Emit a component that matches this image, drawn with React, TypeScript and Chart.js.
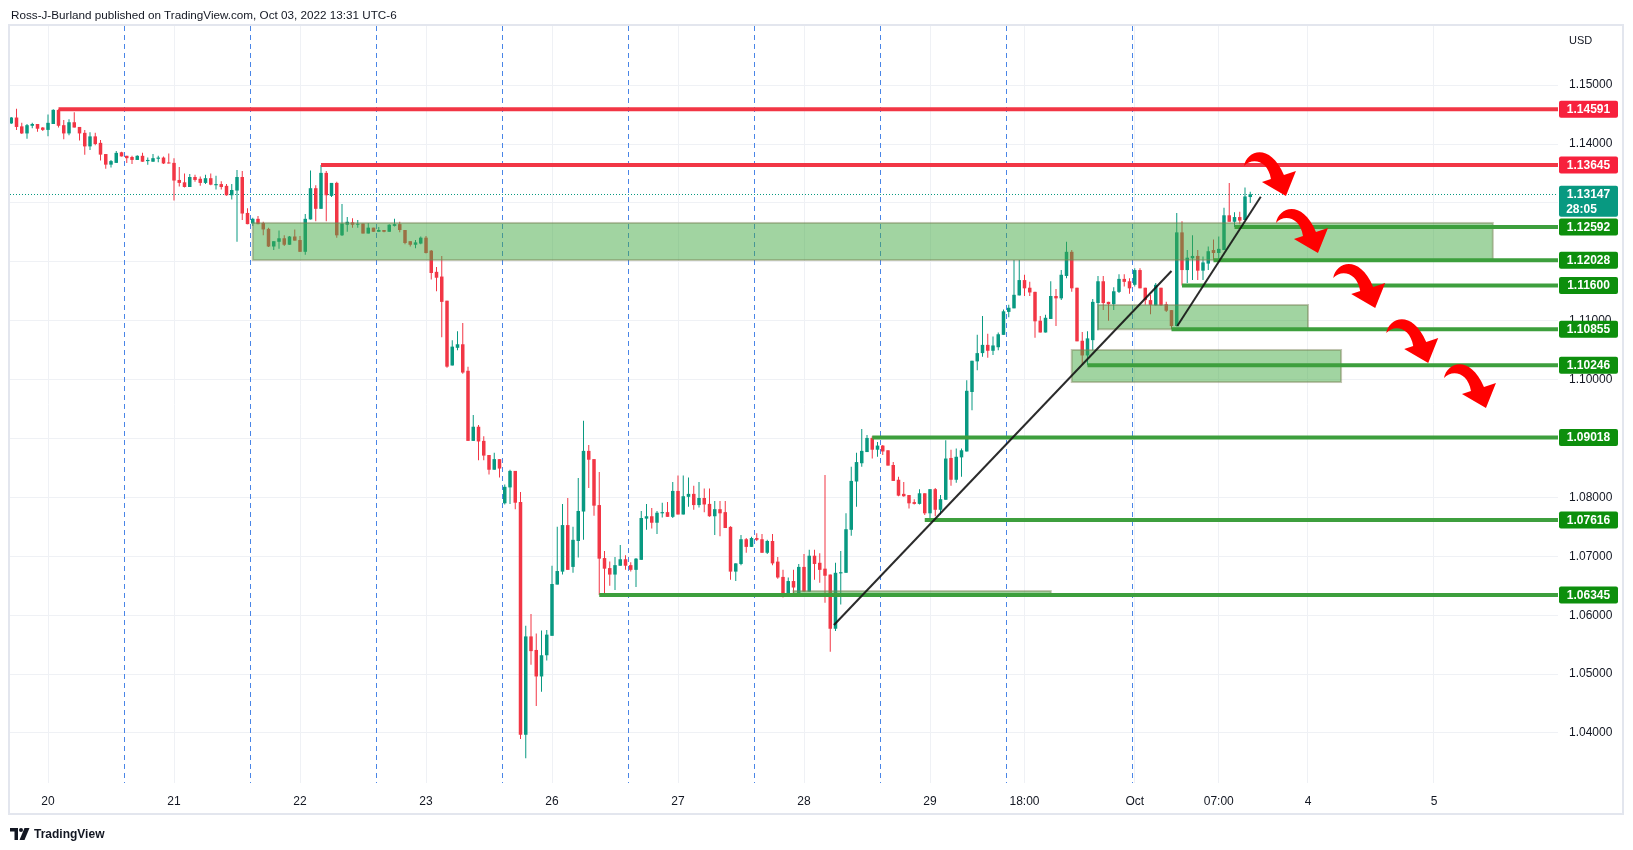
import React, { useEffect, useRef } from 'react';
import { Chart, registerables } from 'chart.js';

Chart.register(...registerables);

const FONT = "'Liberation Sans', Arial, sans-serif";
const UP = '#089981';
const DOWN = '#F23645';
const LEVEL_RED = '#F23645';
const LABEL_RED = '#f7213d';
const LEVEL_GREEN = '#3d9f3d';
const LABEL_GREEN = '#0d8f0d';

// hourly candles, index 0 = Sep 19 17:00 (UTC-6)
const opens = [
  1.1435, 1.1445, 1.1430, 1.1418, 1.1431, 1.1434, 1.1428, 1.1424, 1.1434, 1.1458,
  1.1432, 1.1418, 1.1437, 1.1429, 1.1419, 1.1396, 1.1413, 1.1402, 1.1383, 1.1365,
  1.1368, 1.1386, 1.1380, 1.1378, 1.1373, 1.1380, 1.1371, 1.1370, 1.1375, 1.1377,
  1.1368, 1.1368, 1.1339, 1.1335, 1.1327, 1.1344, 1.1341, 1.1334, 1.1342, 1.1330,
  1.1332, 1.1329, 1.1313, 1.1321, 1.1344, 1.1283, 1.1265, 1.1273, 1.1266, 1.1256,
  1.1226, 1.1234, 1.1240, 1.1229, 1.1243, 1.1237, 1.1217, 1.1272, 1.1325, 1.1290,
  1.1351, 1.1312, 1.1334, 1.1245, 1.1263, 1.1267, 1.1263, 1.1265, 1.1248, 1.1258,
  1.1251, 1.1254, 1.1251, 1.1261, 1.1264, 1.1254, 1.1235, 1.1229, 1.1231, 1.1241,
  1.1219, 1.1183, 1.1175, 1.1134, 1.1024, 1.1054, 1.1060, 1.1015, 1.0896, 1.0920,
  1.0896, 1.0872, 1.0847, 1.0865, 1.0790, 1.0817, 1.0845, 1.0792, 1.0397, 1.0564,
  1.0541, 1.0496, 1.0532, 1.0565, 1.0652, 1.0674, 1.0753, 1.0682, 1.0726, 1.0776,
  1.0879, 1.0865, 1.0787, 1.0697, 1.0680, 1.0669, 1.0684, 1.0695, 1.0685, 1.0677,
  1.0694, 1.0764, 1.0768, 1.0757, 1.0773, 1.0775, 1.0767, 1.0811, 1.0771, 1.0801,
  1.0806, 1.0787, 1.0799, 1.0789, 1.0768, 1.0780, 1.0775, 1.0750, 1.0674, 1.0687,
  1.0729, 1.0716, 1.0731, 1.0729, 1.0706, 1.0726, 1.0691, 1.0665, 1.0633, 1.0658,
  1.0633, 1.0682, 1.0640, 1.0701, 1.0689, 1.0679, 1.0669, 1.0577, 1.0671, 1.0672,
  1.0745, 1.0827, 1.0858, 1.0877, 1.0901, 1.0881, 1.0888, 1.0880, 1.0855, 1.0830,
  1.0806, 1.0804, 1.0792, 1.0789, 1.0807, 1.0773, 1.0814, 1.0779, 1.0796, 1.0867,
  1.0830, 1.0868, 1.0878, 1.0979, 1.1031, 1.1045, 1.1059, 1.1049, 1.1055, 1.1076,
  1.1115, 1.1121, 1.1143, 1.1169, 1.1156, 1.1149, 1.1100, 1.1080, 1.1103, 1.1142,
  1.1138, 1.1176, 1.1217, 1.1156, 1.1066, 1.1041, 1.1067, 1.1130, 1.1167, 1.1132,
  1.1128, 1.1149, 1.1171, 1.1167, 1.1161, 1.1186, 1.1156, 1.1135, 1.1126, 1.1156,
  1.1128, 1.1118, 1.1091, 1.1250, 1.1186, 1.1206, 1.1210, 1.1185, 1.1197, 1.1220,
  1.1215, 1.1220, 1.1279, 1.1268, 1.1276, 1.1271, 1.1310,
];

const highs = [
  1.1446, 1.1460, 1.1436, 1.1434, 1.1436, 1.1434, 1.1429, 1.1450, 1.1459, 1.14591,
  1.1441, 1.1442, 1.1454, 1.1429, 1.1424, 1.1420, 1.1419, 1.1407, 1.1383, 1.1373,
  1.1388, 1.1387, 1.1380, 1.1380, 1.1381, 1.1385, 1.1377, 1.1383, 1.1380, 1.1379,
  1.1384, 1.1376, 1.1361, 1.1350, 1.1349, 1.1348, 1.1345, 1.1348, 1.1350, 1.1346,
  1.1337, 1.1332, 1.1332, 1.1356, 1.1354, 1.1291, 1.1275, 1.1278, 1.1268, 1.1258,
  1.1235, 1.1253, 1.1245, 1.1244, 1.1255, 1.1244, 1.1281, 1.1355, 1.1330, 1.13645,
  1.1354, 1.1334, 1.1336, 1.1298, 1.1276, 1.1274, 1.1271, 1.1265, 1.1266, 1.1258,
  1.1259, 1.1254, 1.1264, 1.1273, 1.1268, 1.1254, 1.1235, 1.1237, 1.1243, 1.1244,
  1.1220, 1.1191, 1.1210, 1.1134, 1.1067, 1.1082, 1.1096, 1.1022, 1.0940, 1.0923,
  1.0904, 1.0872, 1.0876, 1.0865, 1.0822, 1.0847, 1.0845, 1.0809, 1.0582, 1.0602,
  1.0569, 1.0574, 1.0575, 1.0684, 1.0750, 1.0789, 1.0799, 1.0750, 1.0833, 1.0930,
  1.0889, 1.0865, 1.0843, 1.0709, 1.0691, 1.0699, 1.0719, 1.0702, 1.0690, 1.0697,
  1.0777, 1.0789, 1.0782, 1.0777, 1.0791, 1.0792, 1.0826, 1.0837, 1.0837, 1.0834,
  1.0820, 1.0826, 1.0815, 1.0815, 1.0794, 1.0794, 1.0794, 1.0751, 1.0688, 1.0736,
  1.0731, 1.0733, 1.0739, 1.0738, 1.0728, 1.0738, 1.0699, 1.0677, 1.0664, 1.0677,
  1.0687, 1.0704, 1.0711, 1.0711, 1.0705, 1.0838, 1.0669, 1.0689, 1.0709, 1.0773,
  1.0852, 1.0876, 1.0916, 1.0906, 1.0904, 1.0894, 1.0889, 1.0880, 1.0860, 1.0835,
  1.0826, 1.0804, 1.0797, 1.0814, 1.0807, 1.0814, 1.0816, 1.0804, 1.0897, 1.0881,
  1.0883, 1.0883, 1.0999, 1.1032, 1.1076, 1.1108, 1.1078, 1.1073, 1.1080, 1.1119,
  1.1127, 1.1203, 1.1203, 1.1178, 1.1166, 1.1149, 1.1108, 1.1110, 1.1167, 1.1154,
  1.1186, 1.1234, 1.1220, 1.1156, 1.1081, 1.1082, 1.1137, 1.1176, 1.1176, 1.1132,
  1.1157, 1.1179, 1.1179, 1.1172, 1.1189, 1.1189, 1.1156, 1.1144, 1.1164, 1.1156,
  1.1132, 1.1118, 1.1283, 1.1269, 1.1220, 1.1245, 1.1220, 1.1209, 1.1226, 1.1238,
  1.1243, 1.1292, 1.1334, 1.1284, 1.1285, 1.1326, 1.1319,
];

const lows = [
  1.1434, 1.1424, 1.1417, 1.1409, 1.1427, 1.1421, 1.1422, 1.1413, 1.1434, 1.1428,
  1.1408, 1.1415, 1.1428, 1.1406, 1.1382, 1.1390, 1.1398, 1.1372, 1.1358, 1.1360,
  1.1368, 1.1379, 1.1368, 1.1366, 1.1373, 1.1370, 1.1365, 1.1370, 1.1369, 1.1366,
  1.1367, 1.1304, 1.1328, 1.1326, 1.1327, 1.1336, 1.1329, 1.1332, 1.1330, 1.1323,
  1.1323, 1.1312, 1.1306, 1.1234, 1.1271, 1.1264, 1.1261, 1.1264, 1.1245, 1.1225,
  1.1220, 1.1222, 1.1227, 1.1229, 1.1236, 1.1217, 1.1212, 1.1272, 1.1269, 1.1290,
  1.1269, 1.1310, 1.1241, 1.1244, 1.1251, 1.1258, 1.1258, 1.1248, 1.1248, 1.1251,
  1.1251, 1.1250, 1.1251, 1.1260, 1.1250, 1.1230, 1.1226, 1.1223, 1.1230, 1.1214,
  1.1170, 1.1150, 1.1072, 1.1020, 1.1024, 1.1050, 1.1010, 1.0896, 1.0896, 1.0863,
  1.0863, 1.0839, 1.0847, 1.0834, 1.0788, 1.0789, 1.0780, 1.0390, 1.0357, 1.0516,
  1.0446, 1.0470, 1.0523, 1.0565, 1.0652, 1.0669, 1.0677, 1.0672, 1.0698, 1.0728,
  1.0816, 1.0769, 1.06345, 1.0634, 1.0650, 1.0643, 1.0684, 1.0677, 1.0674, 1.0648,
  1.0694, 1.0745, 1.0747, 1.0738, 1.0766, 1.0767, 1.0765, 1.0771, 1.0771, 1.0784,
  1.0779, 1.0783, 1.0775, 1.0767, 1.0736, 1.0734, 1.0748, 1.0660, 1.0658, 1.0685,
  1.0706, 1.0716, 1.0726, 1.0706, 1.0704, 1.0685, 1.0662, 1.0630, 1.0633, 1.0632,
  1.0633, 1.0640, 1.0640, 1.0660, 1.0655, 1.0621, 1.0538, 1.0573, 1.0618, 1.0672,
  1.0735, 1.0784, 1.0852, 1.0877, 1.0866, 1.0869, 1.0872, 1.0854, 1.0828, 1.0802,
  1.0801, 1.0781, 1.0788, 1.0788, 1.0770, 1.07616, 1.0768, 1.0771, 1.0796, 1.0820,
  1.0825, 1.0835, 1.0878, 1.0948, 1.1016, 1.1039, 1.1037, 1.1042, 1.1050, 1.1076,
  1.1106, 1.1121, 1.1143, 1.1142, 1.1142, 1.1071, 1.1080, 1.1080, 1.1103, 1.1091,
  1.1135, 1.1172, 1.1149, 1.1065, 1.1025, 1.10246, 1.1050, 1.1084, 1.1118, 1.1100,
  1.1118, 1.1147, 1.1158, 1.1146, 1.1158, 1.1155, 1.1127, 1.1111, 1.1126, 1.1125,
  1.1115, 1.10855, 1.1090, 1.1160, 1.1164, 1.1169, 1.1169, 1.1169, 1.1186, 1.12028,
  1.1203, 1.1220, 1.1268, 1.12592, 1.1264, 1.1271, 1.1300,
];

const closes = [
  1.1445, 1.1429, 1.1418, 1.1432, 1.1434, 1.1426, 1.1424, 1.1436, 1.1458, 1.1431,
  1.1418, 1.1437, 1.1428, 1.1418, 1.1396, 1.1413, 1.1400, 1.1382, 1.1365, 1.1371,
  1.1385, 1.1379, 1.1376, 1.1373, 1.1380, 1.1370, 1.1373, 1.1376, 1.1377, 1.1367,
  1.1367, 1.1338, 1.1334, 1.1327, 1.1344, 1.1339, 1.1334, 1.1342, 1.1331, 1.1332,
  1.1327, 1.1313, 1.1322, 1.1344, 1.1282, 1.1264, 1.1273, 1.1264, 1.1255, 1.1226,
  1.1235, 1.1240, 1.1229, 1.1243, 1.1236, 1.1217, 1.1273, 1.1325, 1.1290, 1.1351,
  1.1313, 1.1334, 1.1245, 1.1265, 1.1268, 1.1263, 1.1264, 1.1248, 1.1258, 1.1251,
  1.1254, 1.1251, 1.1263, 1.1264, 1.1254, 1.1232, 1.1229, 1.1233, 1.1241, 1.1215,
  1.1181, 1.1173, 1.1132, 1.1022, 1.1056, 1.1060, 1.1012, 1.0896, 1.0920, 1.0895,
  1.0871, 1.0847, 1.0865, 1.0849, 1.0818, 1.0845, 1.0791, 1.0397, 1.0564, 1.0539,
  1.0496, 1.0532, 1.0567, 1.0653, 1.0675, 1.0753, 1.0677, 1.0728, 1.0777, 1.0879,
  1.0864, 1.0786, 1.0696, 1.0679, 1.0669, 1.0685, 1.0695, 1.0684, 1.0677, 1.0696,
  1.0765, 1.0768, 1.0757, 1.0774, 1.0775, 1.0767, 1.0811, 1.0771, 1.0802, 1.0806,
  1.0787, 1.0799, 1.0788, 1.0768, 1.0780, 1.0773, 1.0748, 1.0674, 1.0688, 1.0729,
  1.0716, 1.0731, 1.0728, 1.0706, 1.0726, 1.0688, 1.0664, 1.0633, 1.0658, 1.0647,
  1.0682, 1.0640, 1.0701, 1.0687, 1.0677, 1.0667, 1.0577, 1.0672, 1.0673, 1.0746,
  1.0828, 1.0860, 1.0879, 1.0901, 1.0881, 1.0888, 1.0878, 1.0854, 1.0828, 1.0803,
  1.0802, 1.0790, 1.0789, 1.0807, 1.0773, 1.0814, 1.0779, 1.0797, 1.0866, 1.0830,
  1.0869, 1.0880, 1.0981, 1.1032, 1.1045, 1.1059, 1.1049, 1.1058, 1.1077, 1.1116,
  1.1122, 1.1144, 1.1169, 1.1155, 1.1148, 1.1099, 1.1080, 1.1105, 1.1142, 1.1138,
  1.1178, 1.1217, 1.1155, 1.1065, 1.1041, 1.1070, 1.1132, 1.1167, 1.1130, 1.1128,
  1.1150, 1.1171, 1.1166, 1.1155, 1.1186, 1.1155, 1.1135, 1.1127, 1.1161, 1.1126,
  1.1117, 1.1091, 1.1250, 1.1186, 1.1207, 1.1210, 1.1185, 1.1199, 1.1218, 1.1215,
  1.1222, 1.1279, 1.1268, 1.1276, 1.1270, 1.1311, 1.13147,
];

const lastPrice = 1.13147;
const countdown = '28:05';

// time axis (bar index -> label)
const xTickIndex = [7, 31, 55, 79, 103, 127, 151, 175, 193, 214, 230, 247, 271];
const xTickLabels = ['20', '21', '22', '23', '26', '27', '28', '29', '18:00', 'Oct', '07:00', '4', '5'];
const sessionBreaks = [21.5, 45.5, 69.5, 93.5, 117.5, 141.5, 165.5, 189.5, 213.5];
const priceTicks = [1.04, 1.05, 1.06, 1.07, 1.08, 1.09, 1.10, 1.11, 1.12, 1.13, 1.14, 1.15];
const X_MIN = -0.24;
const X_MAX = 294.62;
const Y_MIN = 1.03151;
const Y_MAX = 1.16004;

// drawn horizontal levels
const redLevelPrices = [1.14591, 1.13645];
const redLevelFrom = [9, 59];
const greenLevelPrices = [1.12592, 1.12028, 1.116, 1.10855, 1.10246, 1.09018, 1.07616, 1.06345];
const greenLevelFrom = [233, 229, 223, 221, 205, 164, 174, 112];

// zones (rectangles)
const zoneFrom = [46, 207, 202, 149];
const zoneTo = [282.2, 247, 253.3, 198];
const zoneHigh = [1.1266, 1.11267, 1.10503, 1.0641];
const zoneLow = [1.1203, 1.10855, 1.09959, 1.0634];

// trend lines
const trendX1 = [156.7, 222.1];
const trendP1 = [1.05834, 1.1091];
const trendX2 = [221, 238];
const trendP2 = [1.11844, 1.13105];

// curved arrows (top-left anchor)
const arrowIdx = [234.8, 240.9, 251.8, 261.9, 272.9];
const arrowPrice = [1.13898, 1.12931, 1.11997, 1.11063, 1.10299];

function drawArrow(ctx: CanvasRenderingContext2D, x: number, y: number) {
  ctx.save();
  ctx.translate(x, y);
  ctx.beginPath();
  ctx.moveTo(0, 16);
  ctx.bezierCurveTo(3, 0, 26, -8, 40, 25);
  ctx.lineTo(52, 21);
  ctx.lineTo(42, 46);
  ctx.lineTo(18, 32);
  ctx.lineTo(27, 29);
  ctx.bezierCurveTo(24, 10, 8, 7, 0, 16);
  ctx.closePath();
  ctx.fillStyle = '#ff0000';
  ctx.fill();
  ctx.restore();
}

function roundRect(ctx: CanvasRenderingContext2D, x: number, y: number, w: number, h: number, r: number) {
  ctx.beginPath();
  ctx.moveTo(x + r, y);
  ctx.lineTo(x + w - r, y);
  ctx.quadraticCurveTo(x + w, y, x + w, y + r);
  ctx.lineTo(x + w, y + h - r);
  ctx.quadraticCurveTo(x + w, y + h, x + w - r, y + h);
  ctx.lineTo(x + r, y + h);
  ctx.quadraticCurveTo(x, y + h, x, y + h - r);
  ctx.lineTo(x, y + r);
  ctx.quadraticCurveTo(x, y, x + r, y);
  ctx.closePath();
}

const overlayPlugin = {
  id: 'tvOverlay',
  beforeDatasetsDraw(chart: any) {
    const { ctx, chartArea: a, scales } = chart;
    const xs = scales.x;
    const ys = scales.y;
    ctx.save();
    ctx.beginPath();
    ctx.rect(a.left, a.top, a.right - a.left, a.bottom - a.top);
    ctx.clip();
    ctx.strokeStyle = '#4985e7';
    ctx.lineWidth = 1;
    ctx.setLineDash([5, 4]);
    sessionBreaks.forEach((v) => {
      const px = Math.round(xs.getPixelForValue(v)) + 0.5;
      ctx.beginPath();
      ctx.moveTo(px, a.top);
      ctx.lineTo(px, a.bottom);
      ctx.stroke();
    });
    ctx.strokeStyle = UP;
    ctx.setLineDash([1, 2]);
    const py = Math.round(ys.getPixelForValue(lastPrice)) + 0.5;
    ctx.beginPath();
    ctx.moveTo(a.left, py);
    ctx.lineTo(a.right, py);
    ctx.stroke();
    ctx.restore();
  },
  afterDatasetDraw(chart: any, args: any) {
    if (args.index !== 1) return;
    const { ctx, chartArea: a, scales } = chart;
    const xs = scales.x;
    const ys = scales.y;
    ctx.save();
    ctx.beginPath();
    ctx.rect(a.left, a.top, a.right - a.left, a.bottom - a.top);
    ctx.clip();
    zoneFrom.forEach((f, i) => {
      const x1 = xs.getPixelForValue(f);
      const x2 = xs.getPixelForValue(zoneTo[i]);
      const y1 = ys.getPixelForValue(zoneHigh[i]);
      const y2 = ys.getPixelForValue(zoneLow[i]);
      ctx.fillStyle = 'rgba(67,170,67,0.5)';
      ctx.fillRect(x1, y1, x2 - x1, y2 - y1);
      ctx.strokeStyle = 'rgba(120,128,84,0.45)';
      ctx.lineWidth = 2;
      ctx.strokeRect(x1, y1, x2 - x1, y2 - y1);
    });
    ctx.restore();
  },
  afterDatasetsDraw(chart: any) {
    const { ctx, chartArea: a, scales } = chart;
    ctx.save();
    ctx.beginPath();
    ctx.rect(a.left, a.top, a.right - a.left, a.bottom - a.top);
    ctx.clip();
    arrowIdx.forEach((v, i) => {
      drawArrow(ctx, scales.x.getPixelForValue(v), scales.y.getPixelForValue(arrowPrice[i]));
    });
    ctx.restore();
  },
  afterDraw(chart: any) {
    const { ctx, chartArea: a, scales } = chart;
    const ys = scales.y;
    ctx.save();
    const boxX = a.right + 1;
    const boxW = 59;
    const label = (p: number, bg: string) => {
      const cy = ys.getPixelForValue(p);
      ctx.fillStyle = bg;
      roundRect(ctx, boxX, cy - 8.5, boxW, 17, 2);
      ctx.fill();
      ctx.fillStyle = '#ffffff';
      ctx.font = `bold 12px ${FONT}`;
      ctx.textAlign = 'center';
      ctx.textBaseline = 'middle';
      ctx.fillText(p.toFixed(5), boxX + boxW / 2, cy + 0.5);
    };
    redLevelPrices.forEach((p) => label(p, LABEL_RED));
    greenLevelPrices.forEach((p) => label(p, LABEL_GREEN));
    // current price label
    const cy = ys.getPixelForValue(lastPrice);
    ctx.fillStyle = UP;
    roundRect(ctx, boxX, cy - 8.5, boxW, 31, 2);
    ctx.fill();
    ctx.fillStyle = '#ffffff';
    ctx.font = `bold 12px ${FONT}`;
    ctx.textAlign = 'center';
    ctx.textBaseline = 'middle';
    ctx.fillText(lastPrice.toFixed(5), boxX + boxW / 2, cy + 0.5);
    ctx.fillText(countdown, boxX + boxW / 2 - 7, cy + 15);
    // currency
    ctx.fillStyle = '#131722';
    ctx.font = `11px ${FONT}`;
    ctx.textAlign = 'left';
    ctx.fillText('USD', a.right + 11, a.top + 15);
    // frame
    ctx.strokeStyle = '#e3e6ee';
    ctx.lineWidth = 2;
    ctx.strokeRect(9, 25, 1614, 789);
    ctx.restore();
  },
};

export default function App() {
  const ref = useRef<HTMLCanvasElement>(null);

  useEffect(() => {
    const canvas = ref.current;
    if (!canvas) return;
    const colors = opens.map((o, i) => (closes[i] >= o ? UP : DOWN));
    const datasets: any[] = [
      {
        type: 'bar',
        label: 'wicks',
        data: opens.map((_, i) => ({ x: i, y: [lows[i], highs[i]] })),
        backgroundColor: colors,
        barThickness: 1,
        grouped: false,
        minBarLength: 1,
        inflateAmount: 0,
        borderWidth: 0,
        order: 6,
      },
      {
        type: 'bar',
        label: 'bodies',
        data: opens.map((o, i) => ({ x: i, y: [o, closes[i]] })),
        backgroundColor: colors,
        barThickness: 3.5,
        grouped: false,
        minBarLength: 1,
        inflateAmount: 0,
        borderWidth: 0,
        order: 5,
      },
    ];
    redLevelPrices.forEach((p, i) => {
      datasets.push({
        type: 'line',
        label: 'red' + i,
        data: [{ x: redLevelFrom[i], y: p }, { x: X_MAX + 2, y: p }],
        borderColor: LEVEL_RED,
        borderWidth: 4,
        pointRadius: 0,
        order: 2,
      });
    });
    greenLevelPrices.forEach((p, i) => {
      datasets.push({
        type: 'line',
        label: 'green' + i,
        data: [{ x: greenLevelFrom[i], y: p }, { x: X_MAX + 2, y: p }],
        borderColor: LEVEL_GREEN,
        borderWidth: 4,
        pointRadius: 0,
        order: 2,
      });
    });
    trendX1.forEach((x1, i) => {
      datasets.push({
        type: 'line',
        label: 'trend' + i,
        data: [{ x: x1, y: trendP1[i] }, { x: trendX2[i], y: trendP2[i] }],
        borderColor: 'rgba(20,20,20,0.9)',
        borderWidth: 2,
        pointRadius: 0,
        order: 1,
      });
    });

    const chart = new Chart(canvas, {
      type: 'bar',
      data: { datasets },
      options: {
        animation: false,
        responsive: false,
        events: [],
        layout: { padding: { left: 10, right: 11, top: 26, bottom: 37 } },
        plugins: { legend: { display: false }, tooltip: { enabled: false } },
        scales: {
          x: {
            type: 'linear',
            min: X_MIN,
            max: X_MAX,
            offset: false,
            afterBuildTicks: (s: any) => {
              s.ticks = xTickIndex.map((v) => ({ value: v }));
            },
            afterFit: (s: any) => {
              s.height = 30;
            },
            grid: { color: '#eff1f5', drawTicks: false, lineWidth: 1, offset: false },
            border: { display: false },
            ticks: {
              autoSkip: false,
              maxRotation: 0,
              padding: 11,
              color: '#131722',
              font: { family: FONT, size: 12 },
              callback: (_v: any, i: number) => xTickLabels[i],
            },
          },
          y: {
            type: 'linear',
            position: 'right',
            min: Y_MIN,
            max: Y_MAX,
            afterBuildTicks: (s: any) => {
              s.ticks = priceTicks.map((v) => ({ value: v }));
            },
            afterFit: (s: any) => {
              s.width = 64;
            },
            grid: { color: '#eff1f5', drawTicks: false, lineWidth: 1 },
            border: { display: false },
            ticks: {
              padding: 11,
              color: '#131722',
              font: { family: FONT, size: 12 },
              callback: (v: any) => Number(v).toFixed(5),
            },
          },
        },
      } as any,
      plugins: [overlayPlugin as any],
    });
    return () => chart.destroy();
  }, []);

  return (
    <div
      style={{
        position: 'fixed',
        left: 0,
        top: 0,
        width: 1633,
        height: 850,
        background: '#ffffff',
        overflow: 'hidden',
      }}
    >
      <canvas
        ref={ref}
        width={1633}
        height={850}
        style={{ position: 'absolute', left: 0, top: 0, width: 1633, height: 850 }}
      />
      <div
        style={{
          position: 'absolute',
          left: 11,
          top: 8,
          font: `11.7px ${FONT}`,
          lineHeight: '14px',
          color: '#131722',
          whiteSpace: 'nowrap',
        }}
      >
        Ross-J-Burland published on TradingView.com, Oct 03, 2022 13:31 UTC-6
      </div>
      <div
        style={{
          position: 'absolute',
          left: 10,
          top: 827,
          display: 'flex',
          alignItems: 'center',
          gap: 4,
          font: `bold 12px ${FONT}`,
          lineHeight: '14px',
          color: '#131722',
          whiteSpace: 'nowrap',
        }}
      >
        <svg width="20" height="12" viewBox="0 0 20 12">
          <path d="M0 0 H8 V12 H4.5 V3.5 H0 Z" fill="#131722" />
          <circle cx="11" cy="2" r="2" fill="#131722" />
          <path d="M14.5 0 H19.5 L14.5 12 H9.5 Z" fill="#131722" />
        </svg>
        <span>TradingView</span>
      </div>
    </div>
  );
}
